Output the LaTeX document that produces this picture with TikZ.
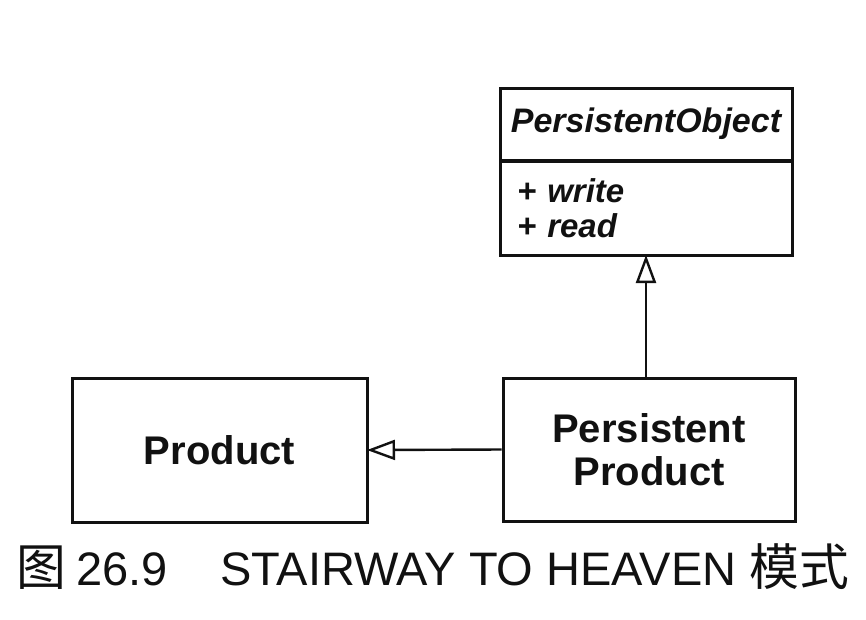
\documentclass[tikz,border=0pt]{standalone}
\usepackage{fontspec}
\setsansfont{Liberation Sans}
\newfontfamily\cjk{Noto Sans CJK SC}[Scale=1.06]
\usetikzlibrary{arrows.meta, positioning}
\definecolor{cink}{HTML}{111111}
\tikzset{
  every picture/.style={font=\sffamily, line width=3pt},
  classbox/.style={draw=cink, rectangle, inner sep=0pt, align=center, text=cink},
  boxname/.style={font=\fontsize{40}{43}\selectfont\sffamily\bfseries},
  abstract/.style={font=\fontsize{34}{38}\selectfont\sffamily\bfseries\itshape},
  opsfont/.style={font=\fontsize{33}{35}\selectfont\sffamily\bfseries\itshape},
  inherit/.style={-{Triangle[open, length=28pt, width=20pt, line width=2.4pt]}, draw=cink, line width=2.4pt, shorten >=-1.5pt},
  caption/.style={font=\fontsize{47}{52}\selectfont\sffamily, text=cink, anchor=base west},
}

\begin{document}
\begin{tikzpicture}[x=1pt, y=-1pt]
  % units are pixels of the scan, y pointing down
  \useasboundingbox (0,0) rectangle (866,619);
  \node[classbox, boxname, minimum width=295pt, minimum height=144pt] (prod) at (219.5,450) {Product};
  \node[classbox, boxname, minimum width=292pt, minimum height=143pt] (pprod) at (649,449.5) {Persistent\\Product};
  \node[classbox, abstract, minimum width=292pt, minimum height=72pt] (pobj) at (646,124) {PersistentObject};
  \node[classbox, opsfont, anchor=north, minimum width=292pt, minimum height=94pt, text width=258pt, inner xsep=17pt, align=left] (pops) at ([yshift=2pt]pobj.south) {+ write\\+ read};
  \draw[inherit] (pprod.west) -- (prod.east);
  \draw[inherit] (pops.south |- pprod.north) -- (pops.south);
  \node[caption] (cap) at (12,585) {{\cjk 图}\hspace{10pt}26.9\hspace{52pt}STAIRWAY TO HEAVEN {\cjk 模式}};
\end{tikzpicture}
\end{document}
